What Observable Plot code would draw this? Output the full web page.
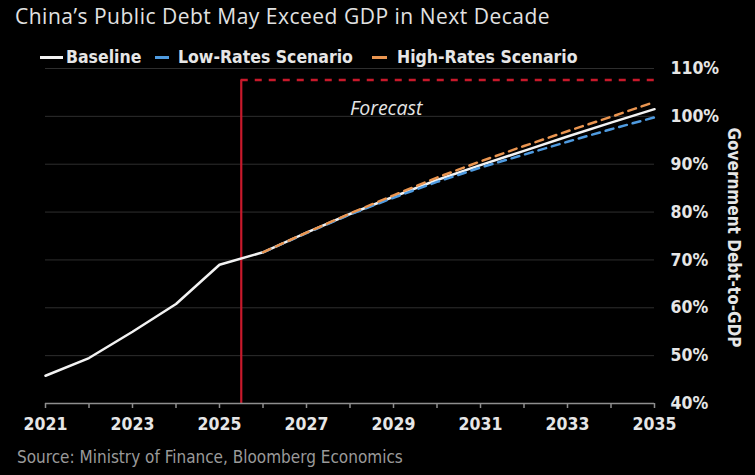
<!DOCTYPE html>
<html>
<head>
<meta charset="utf-8">
<script src="https://cdn.jsdelivr.net/npm/d3@7"></script>
<script src="https://cdn.jsdelivr.net/npm/@observablehq/plot@0.6"></script>
<style>
  html, body { margin: 0; padding: 0; background: #000; }
  #page { position: relative; width: 755px; height: 475px; overflow: hidden; background: #000; }
  .title { position: absolute; left: 15px; top: 2px; font-family: "Open Sans", sans-serif; font-size: 21px; letter-spacing: 0.5px; line-height: 28px; color: #e2e2e2; white-space: nowrap; }
  #legend { position: absolute; left: 0; top: 0; z-index: 2; }
  .lg-text { position: absolute; top: 46px; line-height: 22px; font-family: "DejaVu Sans Condensed", "DejaVu Sans", sans-serif; font-weight: bold; font-size: 17.5px; color: #e6e6e6; white-space: nowrap; }
  .lg-swatch { position: absolute; top: 56px; height: 3px; }
  #chart { position: absolute; left: 0; top: 60px; z-index: 1; }
  .source { position: absolute; left: 17px; top: 446px; font-family: "Liberation Sans Narrow", "DejaVu Sans Condensed", sans-serif; font-size: 17px; line-height: 22px; color: #9a9a9a; white-space: nowrap; }
</style>
</head>
<body>
<div id="page">
  <div class="title">China’s Public Debt May Exceed GDP in Next Decade</div>
  <div id="chart"></div>
  <div id="legend"></div>
  <div class="source">Source: Ministry of Finance, Bloomberg Economics</div>
</div>
<script>
// Government debt-to-GDP, % (actuals to 2025, projections thereafter)
const years = [2021, 2022, 2023, 2024, 2025, 2026, 2027, 2028, 2029, 2030, 2031, 2032, 2033, 2034, 2035];
const baseline = [45.8, 49.5, 55.0, 60.8, 69.0, 71.6, 75.7, 79.6, 83.2, 86.7, 89.8, 92.8, 95.8, 98.7, 101.5];

const scenarioYears = [2026, 2027, 2028, 2029, 2030, 2031, 2032, 2033, 2034, 2035];
const lowRates  = [71.6, 75.6, 79.5, 83.0, 86.3, 89.3, 92.0, 94.7, 97.3, 99.8];
const highRates = [71.6, 75.7, 79.7, 83.5, 87.2, 90.6, 93.8, 96.9, 99.9, 103.0];

const xTicks = years;
const xTickLabels = [2021, 2023, 2025, 2027, 2029, 2031, 2033, 2035];
const yTicks = [40, 50, 60, 70, 80, 90, 100, 110];

// Forecast frame: starts mid-2025
const forecastStart = 2025.5;
const forecastTop = 107.6;

const seriesNames = ["Baseline", "Low-Rates Scenario", "High-Rates Scenario"];
const seriesColors = ["#f2f2f2", "#4f9be0", "#ea9550"];

const baseRows = years.map((year, i) => ({year, value: baseline[i]}));
const lowRows = scenarioYears.map((year, i) => ({year, value: lowRates[i]}));
const highRows = scenarioYears.map((year, i) => ({year, value: highRates[i]}));

// Legend
const legend = document.getElementById("legend");
const legendLayout = [
  {swatch: 40, swatchW: 23, text: 66},
  {swatch: 155, swatchW: 14, text: 178},
  {swatch: 372, swatchW: 15, text: 397}
];
seriesNames.forEach((name, i) => {
  const sw = document.createElement("span");
  sw.className = "lg-swatch";
  sw.style.left = legendLayout[i].swatch + "px";
  sw.style.width = legendLayout[i].swatchW + "px";
  sw.style.background = seriesColors[i];
  legend.appendChild(sw);
  const t = document.createElement("span");
  t.className = "lg-text";
  t.style.left = legendLayout[i].text + "px";
  t.textContent = name;
  legend.appendChild(t);
});

const frameRed = "#c8192b";

const chart = Plot.plot({
  width: 755,
  height: 400,
  marginTop: 8,
  marginBottom: 57,
  marginLeft: 45,
  marginRight: 101,
  style: {
    background: "transparent",
    color: "#e6e6e6",
    fontFamily: "'DejaVu Sans Condensed', 'DejaVu Sans', sans-serif",
    fontSize: "17.5px",
    fontWeight: "bold",
    overflow: "visible"
  },
  x: {domain: [2021, 2035]},
  y: {domain: [40, 110]},
  marks: [
    Plot.ruleY(yTicks.filter(d => d > 40), {stroke: "#2e2e2e", strokeWidth: 1}),
    Plot.ruleX([forecastStart], {y1: 40, y2: forecastTop, stroke: frameRed, strokeWidth: 2.2}),
    Plot.ruleY([forecastTop], {x1: forecastStart, x2: 2035, stroke: frameRed, strokeWidth: 2.5, strokeDasharray: "7,7"}),
    Plot.text(["Forecast"], {x: 2028.83, y: 101.6, fontFamily: "'Open Sans', sans-serif", fontStyle: "italic", fontWeight: "normal", fontSize: 19.5, fill: "#e4e4e4"}),
    Plot.line(baseRows, {x: "year", y: "value", stroke: seriesColors[0], strokeWidth: 2.5}),
    Plot.line(lowRows, {x: "year", y: "value", stroke: seriesColors[1], strokeWidth: 2.5, strokeDasharray: "8,6"}),
    Plot.line(highRows, {x: "year", y: "value", stroke: seriesColors[2], strokeWidth: 2.5, strokeDasharray: "8,6"}),
    Plot.ruleY([40], {stroke: "#8e8e8e", strokeWidth: 1.5}),
    Plot.axisX({
      ticks: xTicks,
      tickSize: 5,
      tickPadding: 9,
      stroke: "#8e8e8e",
      strokeWidth: 1.5,
      tickFormat: d => xTickLabels.includes(d) ? String(d) : "",
      label: null
    }),
    Plot.axisY({
      anchor: "right",
      ticks: yTicks,
      tickSize: 0,
      tickPadding: 16,
      tickFormat: d => d + "%",
      textAnchor: "start",
      label: null
    }),
    Plot.text(["Government Debt-to-GDP"], {frameAnchor: "right", textAnchor: "middle", dx: 79, dy: 1.5, rotate: 90, fontSize: 17, fill: "#e6e6e6"})
  ]
});
document.getElementById("chart").appendChild(chart);
</script>
</body>
</html>
